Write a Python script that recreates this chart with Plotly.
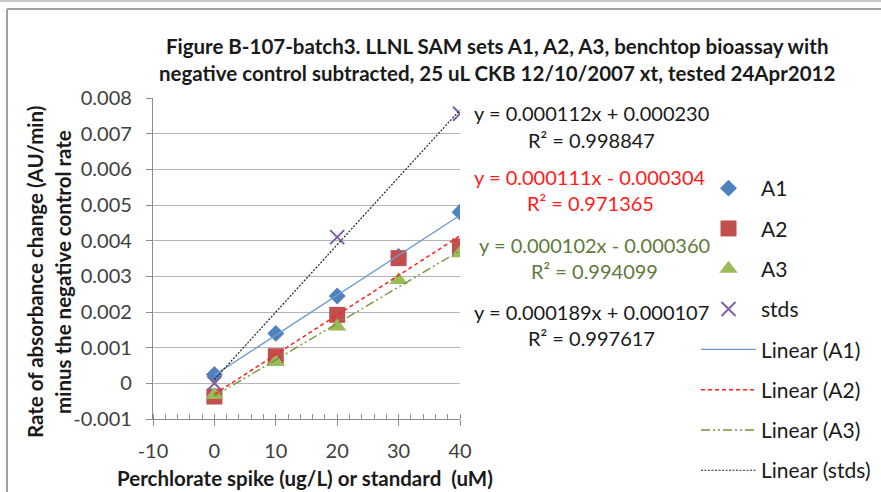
import plotly.graph_objects as go

# ---- data ----
x_spike = [0, 10, 20, 30, 40]
a1 = [0.00025, 0.00140, 0.00245, 0.00356, 0.00480]
a2 = [-0.00037, 0.00076, 0.00192, 0.00351, 0.00384]
a3 = [-0.00033, 0.00060, 0.00159, 0.00290, 0.00365]
x_std = [0, 20, 40]
stds = [0.0000, 0.00410, 0.00756]

# linear trendline coefficients (slope, intercept, R^2)
fit_a1 = (0.000112, 0.000230, 0.998847)
fit_a2 = (0.000111, -0.000304, 0.971365)
fit_a3 = (0.000102, -0.000360, 0.994099)
fit_std = (0.000189, 0.000107, 0.997617)

y_tickvals = [-0.001, 0, 0.001, 0.002, 0.003, 0.004, 0.005, 0.006, 0.007, 0.008]
y_ticktext = ["-0.001", "0", "0.001", "0.002", "0.003", "0.004", "0.005", "0.006", "0.007", "0.008"]
x_tickvals = [-10, 0, 10, 20, 30, 40]
x_ticktext = ["-10", "0", "10", "20", "30", "40"]

FONT = "Lato"
W, H = 881, 492
L, R, T, B = 153, 460, 98, 419  # plot-area edges in pixels


def px(x):
    return (x - L) / (R - L)


def py(y):
    return (B - y) / (B - T)


def trend(fit, xs):
    m, c, _ = fit
    return [m * v + c for v in xs]


def eq_text(fit):
    m, c, _ = fit
    sign = "+" if c >= 0 else "-"
    return f"y = {m:.6f}x {sign} {abs(c):.6f}"


fig = go.Figure()

# data markers
fig.add_trace(go.Scatter(x=x_spike, y=a1, mode="markers", name="A1", legendgroup="1",
                         marker=dict(symbol="diamond", size=13, color="#4F81BD",
                                     line=dict(width=0))))
fig.add_trace(go.Scatter(x=x_spike, y=a2, mode="markers", name="A2", legendgroup="2",
                         marker=dict(symbol="square", size=16, color="#C0504D",
                                     line=dict(width=0))))
fig.add_trace(go.Scatter(x=x_spike, y=a3, mode="markers", name="A3", legendgroup="3",
                         marker=dict(symbol="triangle-up", size=16, color="#9BBB59",
                                     line=dict(width=0))))
fig.add_trace(go.Scatter(x=x_std, y=stds, mode="markers", name="stds", legendgroup="4",
                         marker=dict(symbol="x-thin-open", size=14, color="#7F5FA6",
                                     line=dict(width=2, color="#7F5FA6"))))

# trendlines
xr = [0, 40]
fig.add_trace(go.Scatter(x=xr, y=trend(fit_a1, xr), mode="lines", name="Linear (A1)",
                         legendgroup="5", line=dict(color="#6C9AD2", width=1.3)))
fig.add_trace(go.Scatter(x=xr, y=trend(fit_a2, xr), mode="lines", name="Linear (A2)",
                         legendgroup="6", line=dict(color="#FF2020", width=1.5, dash="4px,3px")))
fig.add_trace(go.Scatter(x=xr, y=trend(fit_a3, xr), mode="lines", name="Linear (A3)",
                         legendgroup="7",
                         line=dict(color="#77933C", width=1.4, dash="9px,3px,2px,3px,2px,3px")))
fig.add_trace(go.Scatter(x=x_std[::2], y=trend(fit_std, x_std[::2]), mode="lines",
                         name="Linear (stds)", legendgroup="8",
                         line=dict(color="#222222", width=1.2, dash="2px,1.5px")))

# equation labels
eq_font = dict(family=FONT, size=20)
labels = [
    (fit_a1, "#1A1A1A", 591, 113, 140),
    (fit_a2, "#FF1A1A", 590, 177, 203),
    (fit_a3, "#5E7A3A", 594, 245, 271),
    (fit_std, "#1A1A1A", 591, 312, 338),
]
annotations = []
for fit, col, cx, y1, y2 in labels:
    annotations.append(dict(x=px(cx), y=py(y1), xref="paper", yref="paper",
                            text=eq_text(fit), showarrow=False,
                            font=dict(eq_font, color=col), xanchor="center", yanchor="middle"))
    annotations.append(dict(x=px(cx), y=py(y2), xref="paper", yref="paper",
                            text=f"R² = {fit[2]:.6f}", showarrow=False,
                            font=dict(eq_font, color=col), xanchor="center", yanchor="middle"))

# axis titles and chart title
title_font = dict(family=FONT, size=20.5, color="#1A1A1A", weight="bold")
for line_text, cx in [("Rate of absorbance change (AU/min)", 35),
                      ("minus the negative control rate", 63)]:
    annotations.append(dict(x=px(cx), y=py(272), xref="paper", yref="paper",
                            text=line_text, showarrow=False, textangle=-90,
                            font=title_font, xanchor="center", yanchor="middle"))
annotations.append(dict(x=px(305), y=py(478), xref="paper", yref="paper",
                        text="Perchlorate spike (ug/L) or standard  (uM)",
                        showarrow=False, font=title_font,
                        xanchor="center", yanchor="middle"))
annotations.append(dict(x=px(497), y=py(59), xref="paper", yref="paper",
                        text="Figure B-107-batch3. LLNL SAM sets A1, A2, A3, benchtop bioassay with<br>"
                             "negative control subtracted, 25 uL CKB 12/10/2007 xt, tested 24Apr2012",
                        showarrow=False, font=title_font,
                        xanchor="center", yanchor="middle"))

# outer frame
shapes = [
    dict(type="line", xref="paper", yref="paper", x0=px(0), x1=px(W), y0=py(1), y1=py(1),
         line=dict(color="#C8C8C8", width=2)),
    dict(type="line", xref="paper", yref="paper", x0=px(7), x1=px(W + 5), y0=py(9), y1=py(9),
         line=dict(color="#A0A0A0", width=2)),
    dict(type="line", xref="paper", yref="paper", x0=px(7), x1=px(7), y0=py(9), y1=py(H + 5),
         line=dict(color="#A0A0A0", width=2)),
]

fig.update_layout(
    width=W, height=H,
    margin=dict(l=L, r=W - R, t=T, b=H - B, pad=0, autoexpand=False),
    paper_bgcolor="white", plot_bgcolor="white",
    font=dict(family=FONT, size=20, color="#404040"),
    showlegend=True,
    legend=dict(x=px(696), y=py(168), xanchor="left", yanchor="top",
                font=dict(family=FONT, size=21, color="#1A1A1A"),
                traceorder="grouped", tracegroupgap=10, itemwidth=55,
                maxheight=600, bgcolor="rgba(0,0,0,0)"),
    annotations=annotations,
    shapes=shapes,
)
fig.update_xaxes(range=[-10, 40], tickvals=x_tickvals, ticktext=x_ticktext,
                 showgrid=False, zeroline=False, showline=True, linecolor="#8C8C8C",
                 linewidth=1.3, ticks="outside", ticklen=6, tickcolor="#8C8C8C",
                 ticklabelstandoff=8,
                 minor=dict(ticks="inside", dtick=2, ticklen=5, tickcolor="#8C8C8C", showgrid=False),
                 tickfont=dict(family=FONT, size=20, color="#404040"))
fig.update_yaxes(range=[-0.001, 0.008], tickvals=y_tickvals, ticktext=y_ticktext,
                 showgrid=True, gridcolor="#B4B4B4", gridwidth=1.3, zeroline=False,
                 showline=True, linecolor="#8C8C8C", linewidth=1.3,
                 ticks="outside", ticklen=6, tickcolor="#8C8C8C", ticklabelstandoff=10,
                 tickfont=dict(family=FONT, size=20, color="#404040"))

fig.write_html("out.html")
